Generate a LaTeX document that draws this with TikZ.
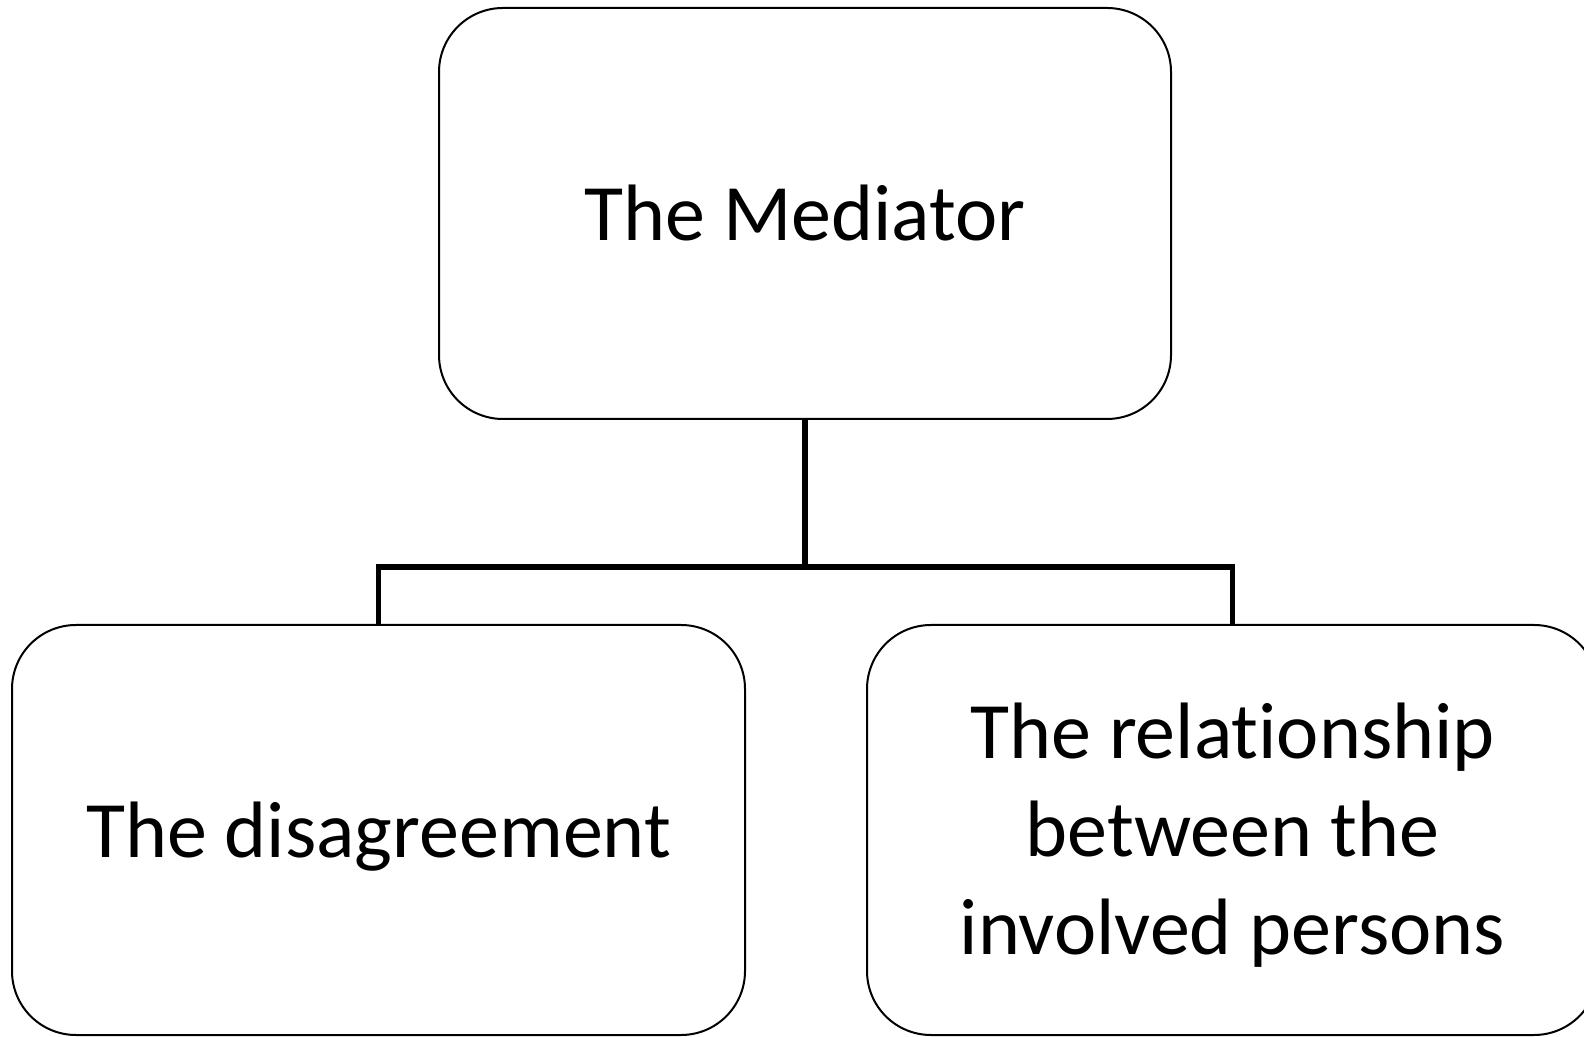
\documentclass[tikz,border=0pt]{standalone}
\usepackage{fontspec}
\setmainfont[Ligatures=NoCommon]{Carlito}
\begin{document}
\begin{tikzpicture}[x=1pt,y=1pt,
  box/.style={draw=black, line width=2pt, rounded corners=64pt, rectangle,
    inner sep=0pt},
  boxtext/.style={inner sep=0pt, align=center, font=\fontsize{80}{98}\selectfont},
  conn/.style={draw=black, line width=5.5pt}]
\useasboundingbox (0,0) rectangle (1584,1036);
\node[box, minimum width=732pt, minimum height=411pt] (top) at (805,822.5) {};
\node[box, minimum width=733pt, minimum height=410pt] (left) at (378.5,206) {};
\node[box, minimum width=731pt, minimum height=410pt] (right) at (1232.5,206) {};
\node[boxtext] (toptext) at (top.center) {The Mediator};
\node[boxtext] (lefttext) at ([yshift=-7pt]left.center) {The disagreement};
\node[boxtext] (righttext) at ([yshift=-5pt]right.center) {The relationship\\between the\\involved persons};
\coordinate (junction) at (805,469);
\draw[conn] (top.south) -- (junction);
\draw[conn] (left.north) |- (junction) -| (right.north);
\end{tikzpicture}
\end{document}
